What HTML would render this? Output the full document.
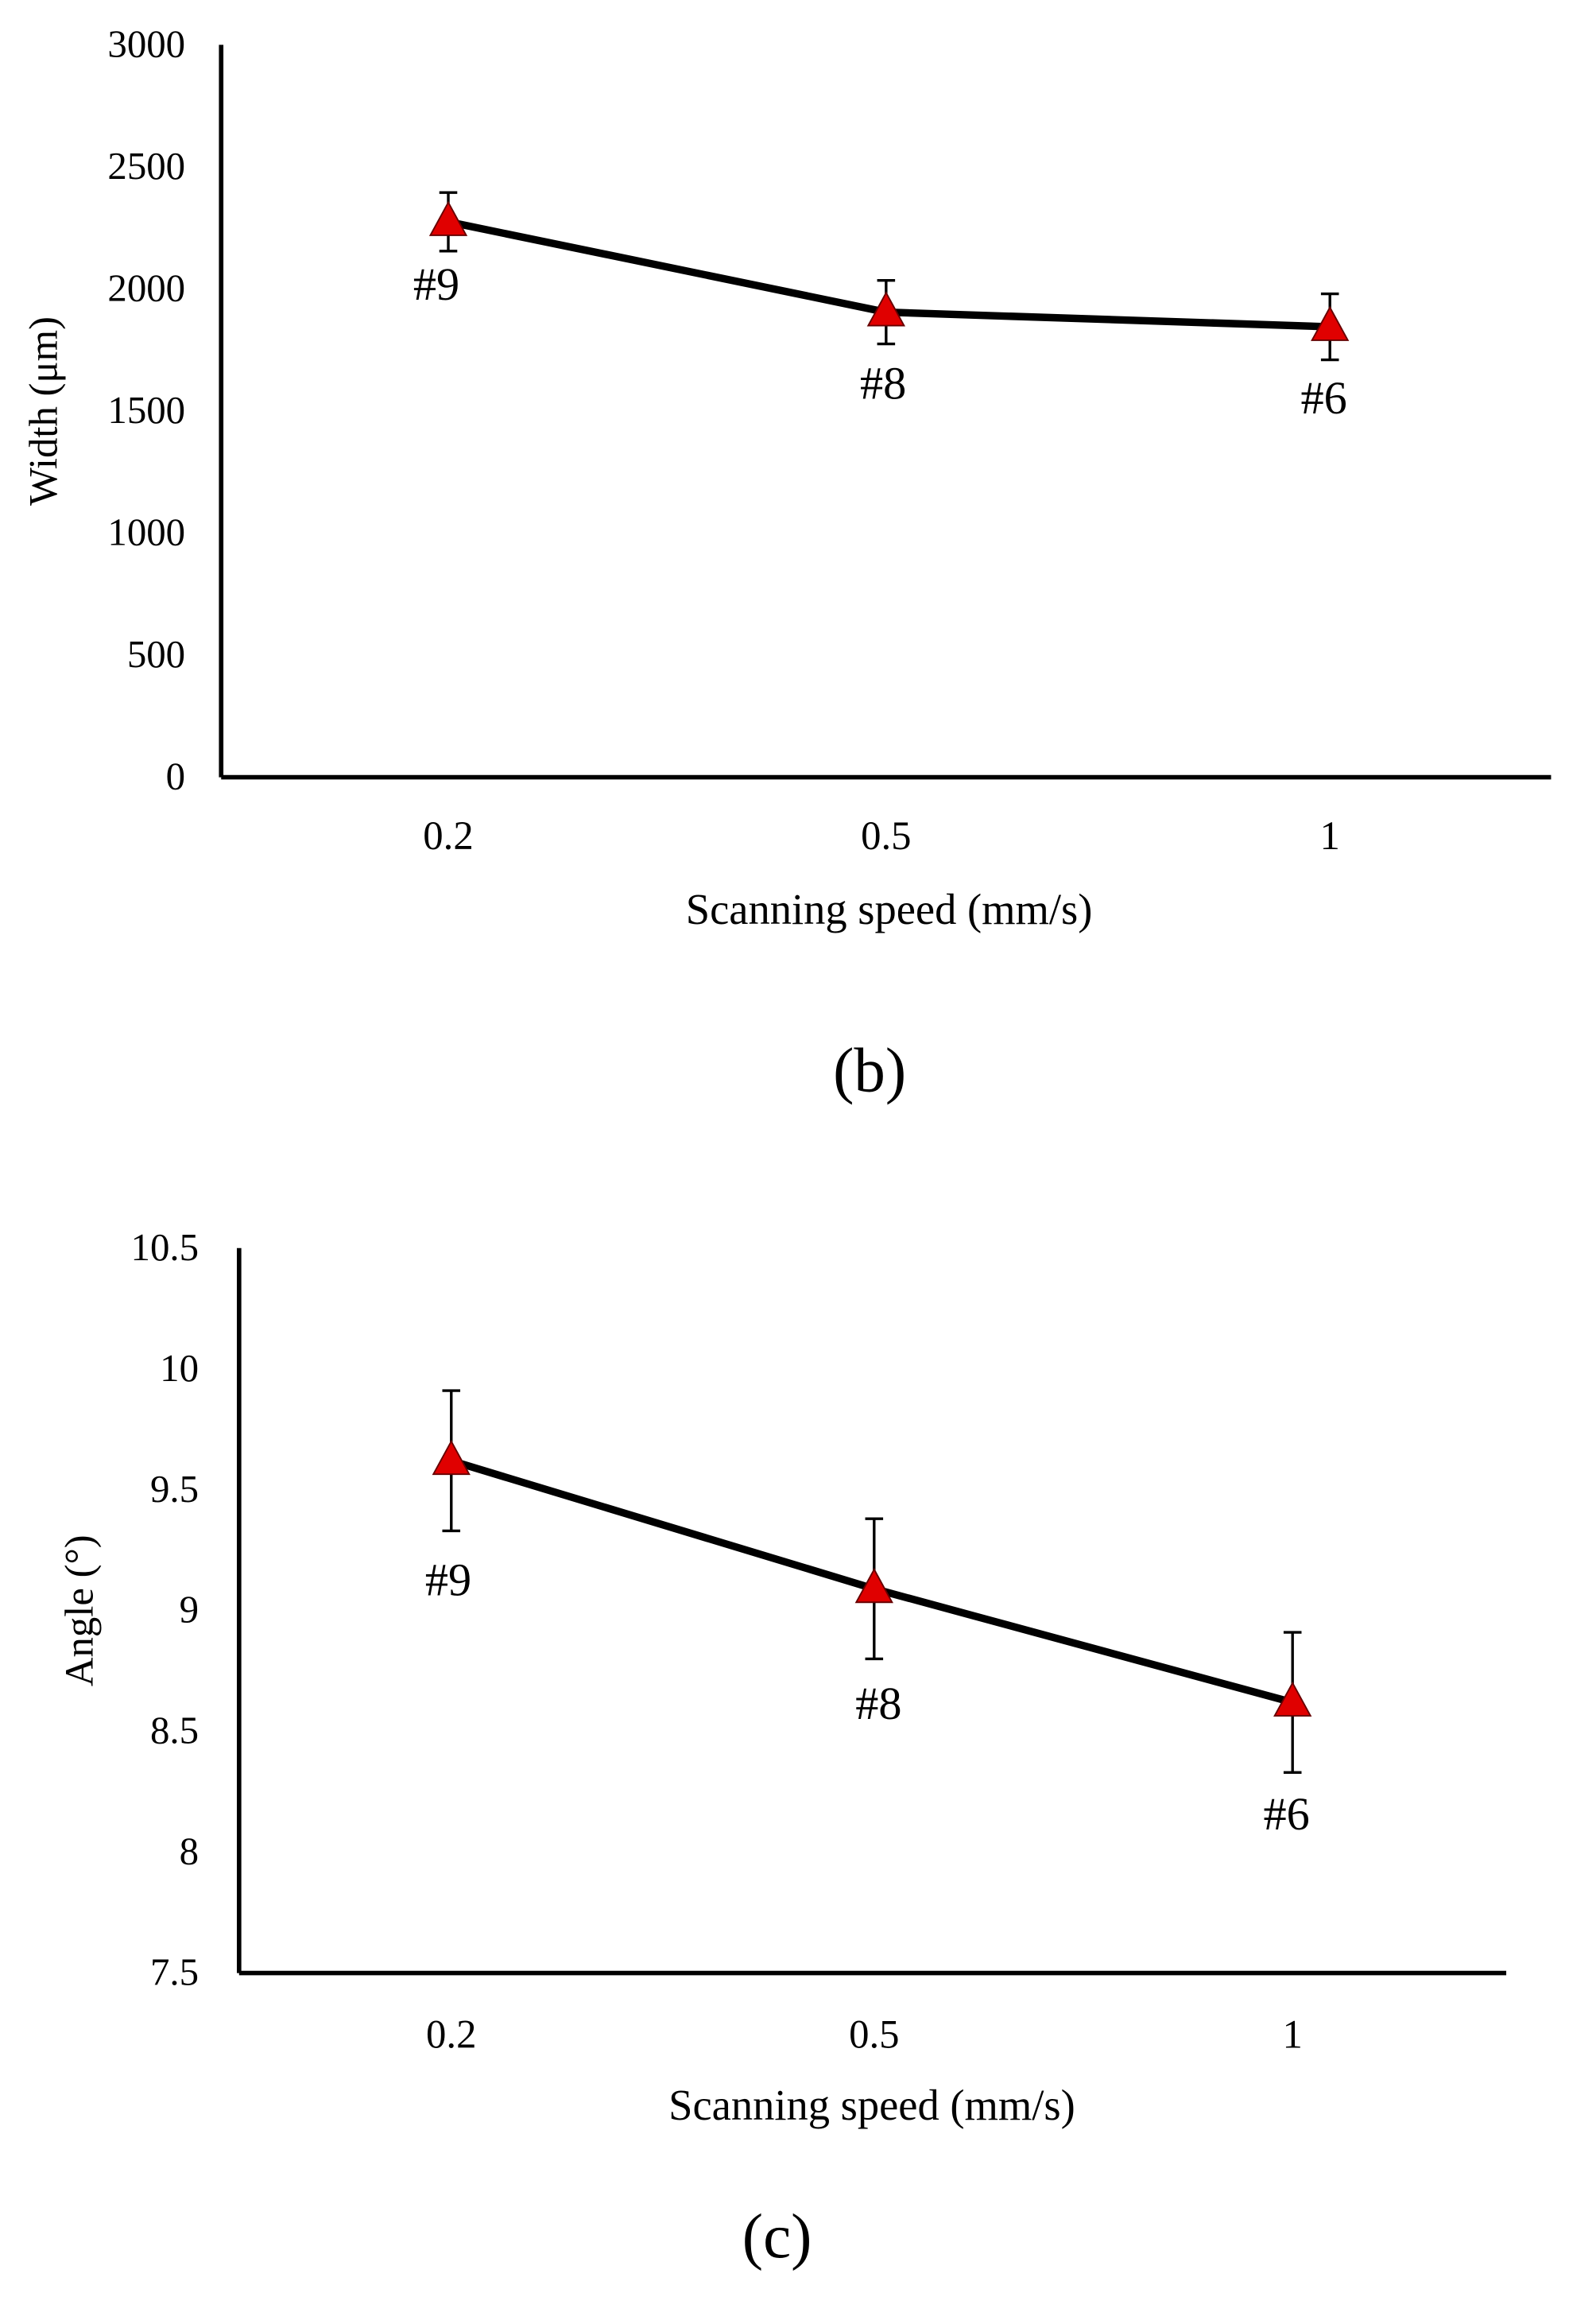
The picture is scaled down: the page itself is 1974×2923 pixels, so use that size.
<!DOCTYPE html>
<html><head><meta charset="utf-8"><style>
html,body{margin:0;padding:0;background:#fff;}
svg{display:block;font-family:"Liberation Serif",serif;}
</style></head><body>
<svg id="fig" width="1974" height="2923" viewBox="0 0 1050 1554.8" preserveAspectRatio="none" xmlns="http://www.w3.org/2000/svg">
<g id="chartB"></g>
<g id="chartC"></g>
</svg>
<script>
const categories = ["0.2", "0.5", "1"];
const sampleLabels = ["#9", "#8", "#6"];
const widthValues = [2275, 1905, 1845];
const widthErrors = [120, 130, 135];
const widthTicks = [0, 500, 1000, 1500, 2000, 2500, 3000];
const angleValues = [9.62, 9.09, 8.62];
const angleErrors = [0.29, 0.29, 0.29];
const angleTicks = [7.5, 8, 8.5, 9, 9.5, 10, 10.5];

const NS = "http://www.w3.org/2000/svg";
function mk(parent, tag, attrs, text){
  const e = document.createElementNS(NS, tag);
  for (const k in attrs) e.setAttribute(k, attrs[k]);
  if (text !== undefined) e.textContent = text;
  parent.appendChild(e);
  return e;
}
function draw(g, cfg){
  const {x0,x1,yTop,yBot,xs,ticks,vals,errs,yTitle,yTitleX,tickLabelX,xLabelY,titleY,panel,panelX,panelY,labelOffsets,tickFmt} = cfg;
  const ymin = ticks[0], ymax = ticks[ticks.length-1];
  const yS = v => yBot - (v - ymin) / (ymax - ymin) * (yBot - yTop);
  const ax = mk(g,'line',{x1:x0,y1:yTop,x2:x0,y2:yBot,stroke:'#000','stroke-width':3});
   
  const bx = mk(g,'line',{x1:x0,y1:yBot,x2:x1,y2:yBot,stroke:'#000','stroke-width':3});
   
  ticks.forEach(t => {
    const e = mk(g,'text',{x:tickLabelX,y:yS(t)+8,'text-anchor':'end','font-size':26}, tickFmt(t));
     
  });
  categories.forEach((c,i) => {
    const e = mk(g,'text',{x:xs[i],y:xLabelY,'text-anchor':'middle','font-size':27}, c);
     
  });
  const xt = mk(g,'text',{x:(xs[0]+xs[2])/2,y:titleY,'text-anchor':'middle','font-size':29}, 'Scanning speed (mm/s)');
   
  const ymid = (yTop+yBot)/2;
  const yt = mk(g,'text',{x:yTitleX,y:ymid,'text-anchor':'middle','font-size':27,transform:`rotate(-90 ${yTitleX} ${ymid})`}, yTitle);
   
  const pts = vals.map((v,i)=>`${xs[i]},${yS(v)}`).join(' ');
  const line = mk(g,'polyline',{points:pts,fill:'none',stroke:'#000','stroke-width':5});
   
  vals.forEach((v,i) => {
    const x = xs[i], yh = yS(v+errs[i]), yl = yS(v-errs[i]);
    const eb = mk(g,'path',{d:`M${x},${yh}V${yl}M${x-6},${yh}H${x+6}M${x-6},${yl}H${x+6}`,stroke:'#000','stroke-width':1.8,fill:'none'});
     
    const y = yS(v);
    const m = mk(g,'polygon',{points:`${x},${y-13} ${x-12},${y+9} ${x+12},${y+9}`,fill:'#e00000',stroke:'#600','stroke-width':1});
     
    const l = mk(g,'text',{x:x+labelOffsets[i][0],y:y+labelOffsets[i][1],'text-anchor':'middle','font-size':31}, sampleLabels[i]);
     
  });
  const p = mk(g,'text',{x:panelX,y:panelY,'text-anchor':'middle','font-size':42}, panel);
   
}
draw(document.getElementById('chartB'), {
  x0:148,x1:1038,yTop:30,yBot:520,xs:[300,593,890],ticks:widthTicks,vals:widthValues,errs:widthErrors,
  yTitle:'Width (μm)',yTitleX:38,tickLabelX:124,xLabelY:568,titleY:618,panel:'(b)',panelX:582,panelY:730,
  labelOffsets:[[-8,52],[-2,58],[-4,58]],tickFmt:t=>String(t)
});
draw(document.getElementById('chartC'), {
  x0:160,x1:1008,yTop:835,yBot:1320,xs:[302,585,865],ticks:angleTicks,vals:angleValues,errs:angleErrors,
  yTitle:'Angle (°)',yTitleX:62,tickLabelX:133,xLabelY:1370,titleY:1418,panel:'(c)',panelX:520,panelY:1510,
  labelOffsets:[[-2,90],[3,87],[-4,85]],tickFmt:t=>String(t)
});
</script>
</body></html>
